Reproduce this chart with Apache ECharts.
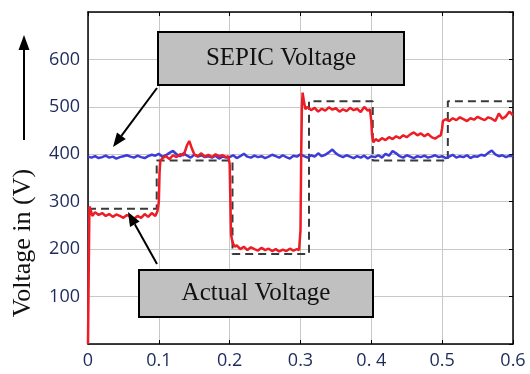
<!DOCTYPE html>
<html>
<head>
<meta charset="utf-8">
<script src="https://cdn.jsdelivr.net/npm/echarts@6/dist/echarts.min.js"></script>
<style>
  html, body { margin: 0; padding: 0; background: #fff; }
  #chart { width: 530px; height: 374px; }
</style>
</head>
<body>
<div id="chart"></div>
<script>
// Tick labels (the source writes "0. 4" with a space)
const xTickLabels = ["0", "0.1", "0.2", "0.3", "0. 4", "0.5", "0.6"]
const yTickLabels = ["", "100", "200", "300", "400", "500", "600", ""]

// SEPIC voltage, sampled every 5 ms from t = 0
const sepicStep = 0.005
const sepicVoltage = [
  395, 393, 396, 392, 394, 397, 393, 395, 391, 394, 396, 398, 395, 393, 397, 394, 392, 396, 399, 397,
  401, 395, 398, 403, 407, 400, 396, 402, 397, 393, 399, 395, 398, 394, 396, 393, 397, 391, 395, 393,
  394, 398, 392, 396, 401, 395, 393, 397, 394, 396, 392, 395, 399, 396, 393, 398, 394, 391, 397, 395,
  400, 396, 393, 398, 395, 402, 396, 399, 404, 410, 402, 397, 394, 398, 395, 392, 396, 393, 397, 391,
  396, 394, 398, 393, 401, 397, 407, 402, 396, 393, 398, 395, 392, 396, 394, 397, 393, 395, 398, 394,
  396, 392, 395, 399, 393, 396, 394, 398, 392, 396, 395, 399, 397, 403, 408, 400, 396, 398, 394, 397,
  396
]

// Actual (output) voltage, [time s, volts]
const actualVoltage = [
  [0, 0], [0.001, 150], [0.002, 290], [0.004, 282], [0.006, 270], [0.01, 278], [0.015, 272], [0.02, 276],
  [0.025, 270], [0.03, 274], [0.035, 268], [0.04, 273], [0.045, 270], [0.05, 266], [0.055, 272], [0.06, 268],
  [0.065, 264], [0.07, 270], [0.075, 266], [0.08, 274], [0.085, 268], [0.09, 276], [0.095, 270], [0.098, 280],
  [0.1, 300], [0.101, 360], [0.102, 385], [0.105, 392], [0.11, 396], [0.115, 390], [0.12, 398], [0.125, 394],
  [0.13, 400], [0.135, 398], [0.14, 420], [0.143, 428], [0.146, 415], [0.15, 400], [0.155, 396], [0.16, 402],
  [0.165, 395], [0.17, 399], [0.175, 394], [0.18, 400], [0.185, 396], [0.19, 398], [0.195, 394], [0.198, 396],
  [0.2, 380], [0.201, 300], [0.202, 230], [0.204, 215], [0.207, 205], [0.21, 208], [0.215, 200], [0.22, 205],
  [0.225, 198], [0.23, 204], [0.235, 200], [0.24, 197], [0.245, 203], [0.25, 198], [0.255, 201], [0.26, 196],
  [0.265, 200], [0.27, 195], [0.275, 199], [0.28, 196], [0.285, 201], [0.29, 197], [0.295, 200], [0.298, 198],
  [0.3, 240], [0.301, 400], [0.302, 500], [0.303, 530], [0.305, 510], [0.307, 495], [0.31, 500], [0.315, 493],
  [0.32, 498], [0.325, 490], [0.33, 496], [0.335, 492], [0.34, 499], [0.345, 494], [0.35, 497], [0.355, 490],
  [0.36, 495], [0.365, 491], [0.37, 498], [0.375, 493], [0.38, 496], [0.385, 489], [0.39, 500], [0.395, 492],
  [0.398, 495], [0.4, 470], [0.401, 440], [0.403, 425], [0.406, 432], [0.41, 428], [0.415, 434], [0.42, 430],
  [0.425, 436], [0.43, 432], [0.435, 438], [0.44, 434], [0.445, 440], [0.45, 436], [0.455, 442], [0.46, 446],
  [0.465, 440], [0.47, 444], [0.475, 438], [0.48, 443], [0.485, 436], [0.49, 433], [0.495, 438], [0.498, 440],
  [0.5, 455], [0.501, 470], [0.505, 474], [0.51, 470], [0.515, 476], [0.52, 472], [0.525, 478], [0.53, 474],
  [0.535, 470], [0.54, 476], [0.545, 473], [0.55, 479], [0.555, 475], [0.56, 472], [0.565, 478], [0.57, 475],
  [0.575, 470], [0.58, 486], [0.585, 475], [0.59, 480], [0.595, 490], [0.6, 482]
]

// Reference voltage (dashed steps), [time s, volts]
const referenceVoltage = [
  [0, 285], [0.097, 285], [0.097, 387], [0.204, 387], [0.204, 190], [0.312, 190],
  [0.312, 512], [0.402, 512], [0.402, 387], [0.508, 387], [0.508, 512], [0.6, 512]
]

const sepicData = sepicVoltage.map((v, i) => [i * sepicStep, v])

const chart = echarts.init(document.getElementById("chart"))

const SERIF = "'Liberation Serif', 'DejaVu Serif', serif"
const LABEL_FONT = "'Open Sans', 'Noto Sans', sans-serif"
const LABEL_COLOR = "#1c2b5a"

// arrow = line + filled head
function arrow(x1, y1, x2, y2, headLen, headW) {
  const a = Math.atan2(y2 - y1, x2 - x1)
  const bx = x2 - headLen * Math.cos(a)
  const by = y2 - headLen * Math.sin(a)
  const nx = -Math.sin(a) * headW / 2
  const ny = Math.cos(a) * headW / 2
  return [
    { type: "line", shape: { x1, y1, x2: bx, y2: by }, style: { stroke: "#000", lineWidth: 2 }, z: 100 },
    { type: "polygon", shape: { points: [[x2, y2], [bx + nx, by + ny], [bx - nx, by - ny]] }, style: { fill: "#000" }, z: 100 },
  ]
}

function box(x, y, w, h, text) {
  return [
    { type: "rect", shape: { x, y, width: w, height: h }, style: { fill: "#c0c0c0", stroke: "#000", lineWidth: 2 }, z: 100 },
    {
      type: "text", x: x + w / 2, y: y + h / 2, z: 101,
      style: { text, font: "25px " + SERIF, fill: "#111", align: "center", verticalAlign: "middle" },
    },
  ]
}

const option = {
  animation: false,
  grid: { left: 88, right: 17, top: 12, bottom: 30 },
  xAxis: [
    {
      type: "value", min: 0, max: 0.6, interval: 0.1,
      axisLine: { lineStyle: { color: "#000", width: 1.5 } },
      axisTick: { inside: true, length: 4, lineStyle: { color: "#000" } },
      axisLabel: {
        margin: 8, fontSize: 18, fontFamily: LABEL_FONT, color: LABEL_COLOR,
        formatter: (v) => xTickLabels[Math.round(v * 10)],
      },
      splitLine: { show: true, lineStyle: { color: "#c8c8c8", width: 1 } },
    },
    {
      type: "value", min: 0, max: 0.6, interval: 0.1, position: "top",
      axisLine: { show: true, onZero: false, lineStyle: { color: "#000", width: 1.5 } },
      axisTick: { inside: true, length: 4, lineStyle: { color: "#000" } },
      axisLabel: { show: false },
      splitLine: { show: false },
    },
  ],
  yAxis: [
    {
      type: "value", min: 0, max: 700, interval: 100,
      axisLine: { show: true, onZero: false, lineStyle: { color: "#000", width: 1.5 } },
      axisTick: { show: false },
      axisLabel: {
        margin: 8, fontSize: 18, fontFamily: LABEL_FONT, color: LABEL_COLOR,
        formatter: (v) => yTickLabels[Math.round(v / 100)],
      },
      splitLine: { show: true, lineStyle: { color: "#c8c8c8", width: 1 } },
    },
    {
      type: "value", min: 0, max: 700, interval: 100, position: "right",
      axisLine: { show: true, onZero: false, lineStyle: { color: "#000", width: 1.5 } },
      axisTick: { show: true, inside: true, length: 4, lineStyle: { color: "#000" } },
      axisLabel: { show: false },
      splitLine: { show: false },
    },
  ],
  series: [
    {
      name: "Reference", type: "line", data: referenceVoltage, showSymbol: false,
      lineStyle: { color: "#3a3a3a", width: 2, type: [8, 5] }, z: 3,
    },
    {
      name: "SEPIC Voltage", type: "line", data: sepicData, showSymbol: false,
      lineStyle: { color: "#3c3cd8", width: 2.5 }, z: 4,
    },
    {
      name: "Actual Voltage", type: "line", data: actualVoltage, showSymbol: false,
      lineStyle: { color: "#ee1c25", width: 2.5 }, z: 5,
    },
  ],
  graphic: [
    ...box(158, 32, 246, 53, "SEPIC Voltage"),
    ...arrow(157, 88, 113, 147, 14, 11),
    ...box(139, 270, 234, 47, "Actual Voltage"),
    ...arrow(157, 264, 128, 212, 14, 11),
    ...arrow(24, 140, 24, 35, 15, 11),
    {
      type: "text", x: 23, y: 243, rotation: Math.PI / 2, z: 100,
      style: { text: "Voltage in (V)", font: "26px " + SERIF, fill: "#111", align: "center", verticalAlign: "middle" },
    },
  ],
}

chart.setOption(option)
</script>
</body>
</html>
